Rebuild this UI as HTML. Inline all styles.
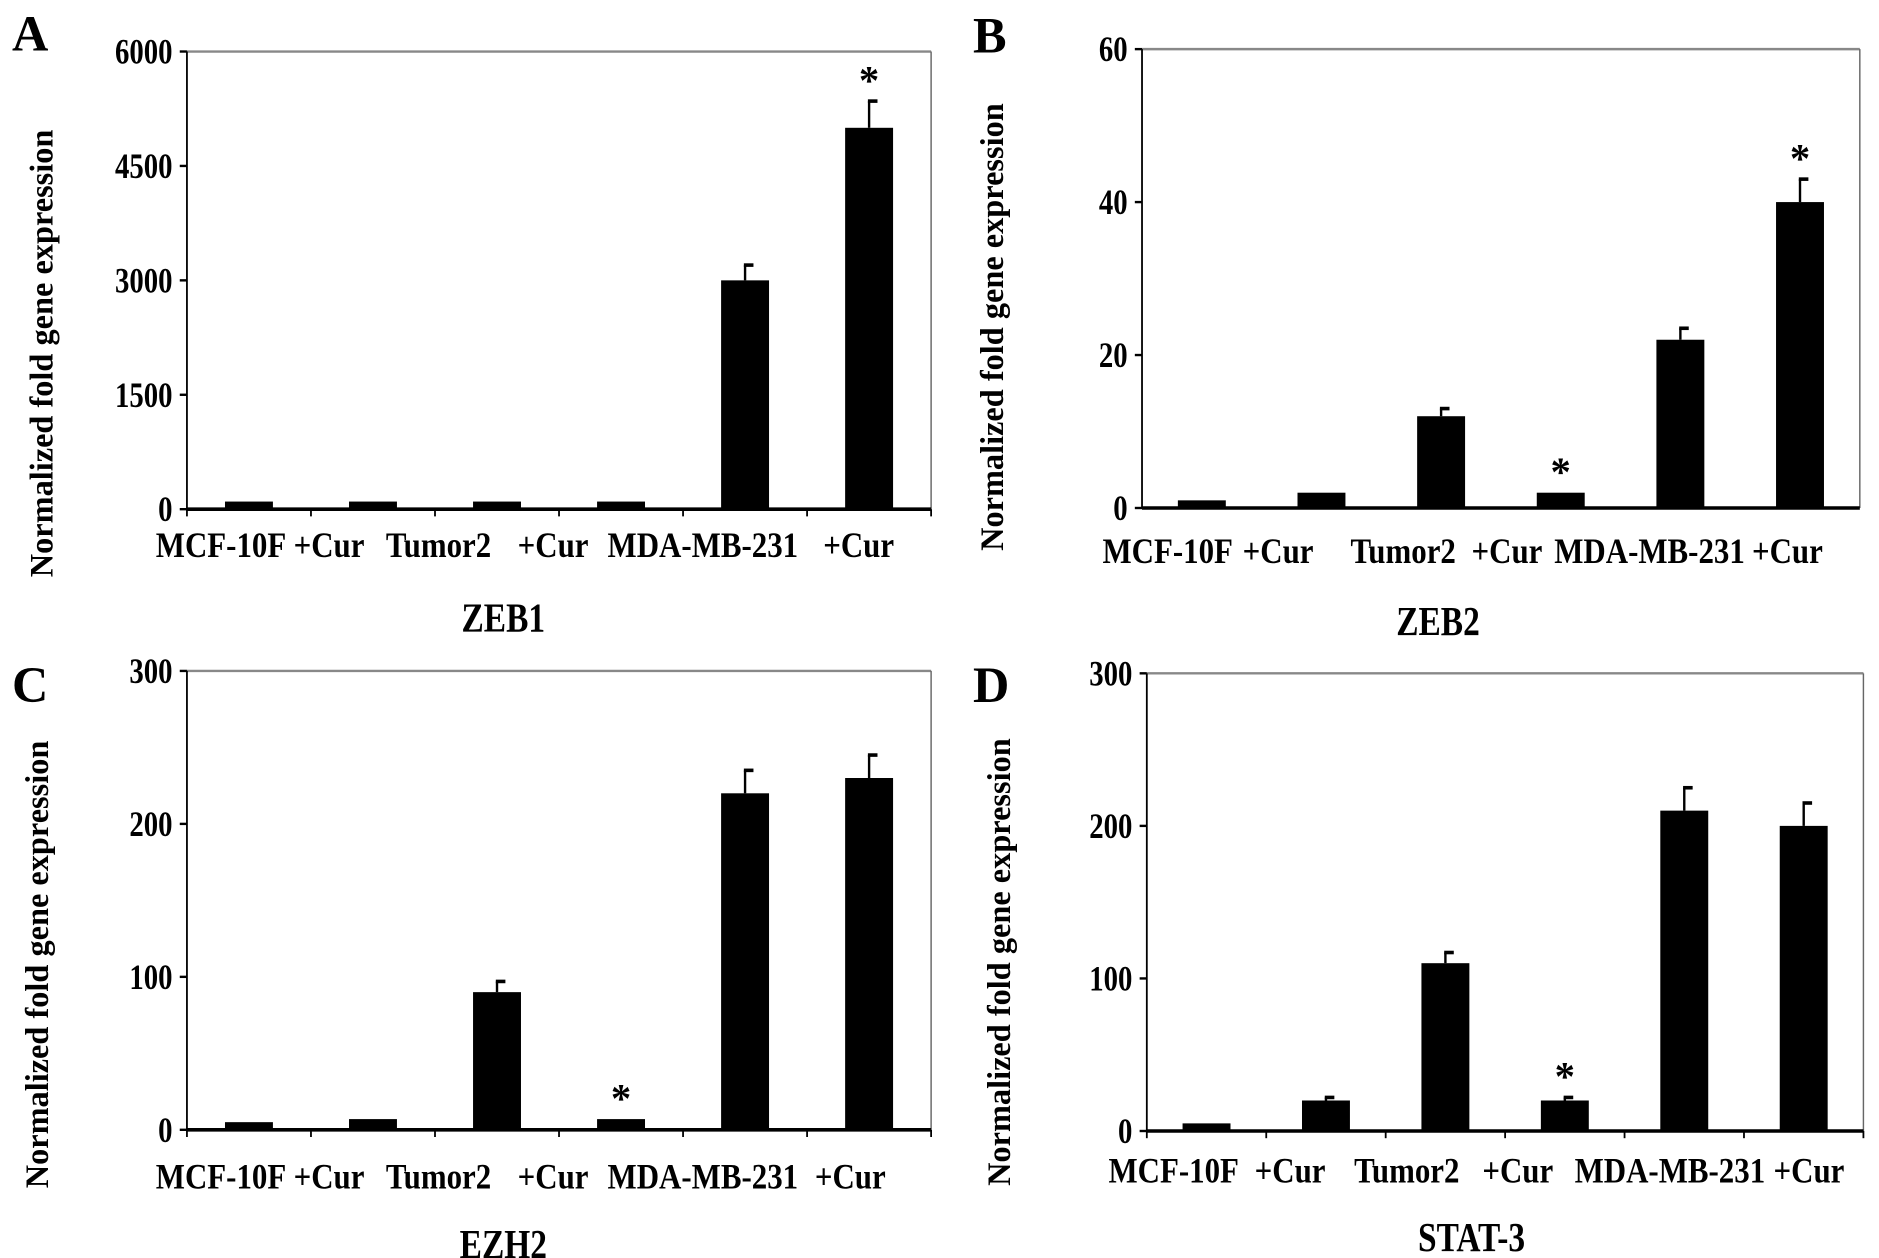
<!DOCTYPE html>
<html><head><meta charset="utf-8"><style>
html,body{margin:0;padding:0;background:#fff;}
svg{display:block;font-family:"Liberation Serif",serif;font-weight:bold;}
</style></head><body>
<svg id="fig" width="1879" height="1258" viewBox="0 0 1568 1050" preserveAspectRatio="none" xmlns="http://www.w3.org/2000/svg"></svg>
<script>
const categories = ["MCF-10F","+Cur","Tumor2","+Cur","MDA-MB-231","+Cur"];
const zeb1Values = [100,100,100,100,3000,5000];
const zeb1Errors = [0,0,0,0,200,350];
const zeb1Ticks = [0,1500,3000,4500,6000];
const zeb1Stars = [false,false,false,false,false,true];
const zeb2Values = [1,2,12,2,22,40];
const zeb2Errors = [0,0,1,0,1.5,3];
const zeb2Ticks = [0,20,40,60];
const zeb2Stars = [false,false,false,true,false,true];
const ezh2Values = [5,7,90,7,220,230];
const ezh2Errors = [0,0,7,0,15,15];
const ezh2Ticks = [0,100,200,300];
const ezh2Stars = [false,false,false,true,false,false];
const stat3Values = [5,20,110,20,210,200];
const stat3Errors = [0,2,7,2,15,15];
const stat3Ticks = [0,100,200,300];
const stat3Stars = [false,false,false,true,false,false];

const panels = [
 {id:"a",letter:"A",title:"ZEB1",vals:zeb1Values,errs:zeb1Errors,ticks:zeb1Ticks,stars:zeb1Stars,
  x0:156,x1:777,y0:425,y1:43,xt:true,labY:465,labX:[130,245,322,432,507,687],titleX:420,titleY:527,ytX:35,ytY:295,lx:10,ly:42},
 {id:"b",letter:"B",title:"ZEB2",vals:zeb2Values,errs:zeb2Errors,ticks:zeb2Ticks,stars:zeb2Stars,
  x0:953,x1:1552,y0:424,y1:41,xt:false,labY:470,labX:[920,1037,1127,1228,1297,1462],titleX:1200,titleY:530,ytX:828,ytY:273,lx:812,ly:44},
 {id:"c",letter:"C",title:"EZH2",vals:ezh2Values,errs:ezh2Errors,ticks:ezh2Ticks,stars:ezh2Stars,
  x0:156,x1:777,y0:943,y1:560,xt:true,labY:992,labX:[130,245,322,432,507,680],titleX:420,titleY:1050,ytX:31,ytY:805,lx:10,ly:586},
 {id:"d",letter:"D",title:"STAT-3",vals:stat3Values,errs:stat3Errors,ticks:stat3Ticks,stars:stat3Stars,
  x0:957,x1:1555,y0:944,y1:562,xt:true,labY:987,labX:[925,1047,1130,1237,1314,1480],titleX:1228,titleY:1044,ytX:834,ytY:803,lx:812,ly:586}
];
const NS="http://www.w3.org/2000/svg";
const svg=document.getElementById("fig");
function mk(tag,attrs,parent){const e=document.createElementNS(NS,tag);for(const k in attrs)e.setAttribute(k,attrs[k]);(parent||svg).appendChild(e);return e;}
function ctext(x,y,size,anchor,parent,sx){return mk("text",{x:x/sx,y:y,"font-size":size,"text-anchor":anchor,transform:`scale(${sx},1)`},parent);}
panels.forEach(p=>{
  const g=mk("g",{});
  
  
  const max=p.ticks[p.ticks.length-1];
  const yS=v=>p.y0-(v/max)*(p.y0-p.y1);
  const step=(p.x1-p.x0)/categories.length;
  const xC=i=>p.x0+step*(i+0.5);
  const bw=40;
  const top=mk("line",{x1:p.x0,y1:p.y1,x2:p.x1,y2:p.y1,stroke:"#888","stroke-width":2},g);
  
  
  const rt=mk("line",{x1:p.x1,y1:p.y1,x2:p.x1,y2:p.y0,stroke:"#666","stroke-width":1.2},g);
  
  
  const ya=mk("line",{x1:p.x0,y1:p.y1,x2:p.x0,y2:p.y0,stroke:"#000","stroke-width":1.5},g);
  
  
  p.ticks.forEach(t=>{
    const y=yS(t);
    mk("line",{x1:p.x0-6,y1:y,x2:p.x0,y2:y,stroke:"#000","stroke-width":2},g);
    const tl=ctext(p.x0-12,y+10,30,"end",g,0.8);
    tl.textContent=t;
    
    
  });
  categories.forEach((c,i)=>{
    const v=p.vals[i],e=p.errs[i];
    const x=xC(i);
    if(e>0){
      mk("line",{x1:x,y1:yS(v),x2:x,y2:yS(v+e),stroke:"#000","stroke-width":2},g);
      mk("line",{x1:x-1,y1:yS(v+e),x2:x+7,y2:yS(v+e),stroke:"#000","stroke-width":3},g);
    }
    const r=mk("rect",{x:x-bw/2,y:yS(v),width:bw,height:p.y0-yS(v),fill:"#000"},g);
    
    
    if(p.stars[i]){
      const s=mk("text",{x:x,y:yS(v+e)-6,"font-size":34,"text-anchor":"middle"},g);
      s.textContent="*";
      
      
    }
    const l=ctext(p.labX[i],p.labY,30,"start",g,0.86);
    l.textContent=c;
    
    
  });
  const xa=mk("line",{x1:p.x0,y1:p.y0,x2:p.x1,y2:p.y0,stroke:"#000","stroke-width":3},g);
  
  
  if(p.xt){for(let i=0;i<=categories.length;i++){mk("line",{x1:p.x0+step*i,y1:p.y0,x2:p.x0+step*i,y2:p.y0+6,stroke:"#000","stroke-width":1.5},g);}}
  const tt=ctext(p.titleX,p.titleY,34,"middle",g,0.82);
  tt.textContent=p.title;
  
  
  const yt=mk("text",{x:p.ytX,y:p.ytY,"font-size":27,"text-anchor":"middle",transform:`rotate(-90 ${p.ytX} ${p.ytY})`,dy:9},g);
  yt.textContent="Normalized fold gene expression";
  
  
  const lt=mk("text",{x:p.lx,y:p.ly,"font-size":42},g);
  lt.textContent=p.letter;
  
  
});
</script>
</body></html>
